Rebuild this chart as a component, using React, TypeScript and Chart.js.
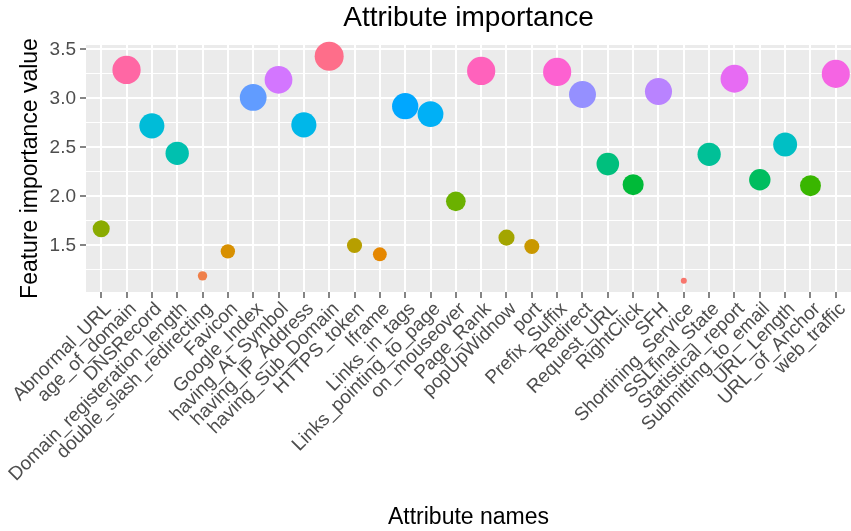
import { useEffect, useRef } from 'react';
import { Chart, registerables } from 'chart.js';

Chart.register(...registerables);

const categories = [
  'Abnormal_URL', 'age_of_domain', 'DNSRecord', 'Domain_registeration_length',
  'double_slash_redirecting', 'Favicon', 'Google_Index', 'having_At_Symbol',
  'having_IP_Address', 'having_Sub_Domain', 'HTTPS_token', 'Iframe',
  'Links_in_tags', 'Links_pointing_to_page', 'on_mouseover', 'Page_Rank',
  'popUpWidnow', 'port', 'Prefix_Suffix', 'Redirect', 'Request_URL',
  'RightClick', 'SFH', 'Shortining_Service', 'SSLfinal_State',
  'Statistical_report', 'Submitting_to_email', 'URL_Length', 'URL_of_Anchor',
  'web_traffic',
];

const importance = [
  1.67, 3.29, 2.72, 2.44,
  1.19, 1.44, 3.01, 3.19,
  2.73, 3.43, 1.50, 1.41,
  2.92, 2.84, 1.95, 3.28,
  1.58, 1.49, 3.27, 3.04, 2.33,
  2.12, 3.07, 1.14, 2.43,
  3.20, 2.17, 2.53, 2.11,
  3.25,
];

const yTickValues = [1.25, 1.5, 1.75, 2.0, 2.25, 2.5, 2.75, 3.0, 3.25, 3.5];

const TITLE = 'Attribute importance';
const FONT = '"Liberation Sans", Arial, sans-serif';

// ggplot2-like hue palette (polar LUV -> sRGB)
function hcl(h: number, c = 100, l = 65): string {
  const hr = (h * Math.PI) / 180;
  const U = c * Math.cos(hr);
  const V = c * Math.sin(hr);
  const WY = 100, Wu = 0.1978398, Wv = 0.4683363;
  const Y = WY * (l > 7.999592 ? Math.pow((l + 16) / 116, 3) : l / 903.3);
  const u = U / (13 * l) + Wu;
  const v = V / (13 * l) + Wv;
  const X = (9 * Y * u) / (4 * v);
  const Z = -X / 3 - 5 * Y + (3 * Y) / v;
  const g = (t: number) => {
    const x = t / WY;
    const r = x > 0.00304 ? 1.055 * Math.pow(x, 1 / 2.4) - 0.055 : 12.92 * x;
    return Math.round(Math.max(0, Math.min(1, r)) * 255);
  };
  const R = g(3.240479 * X - 1.53715 * Y - 0.498535 * Z);
  const G = g(-0.969256 * X + 1.875992 * Y + 0.041556 * Z);
  const B = g(0.055648 * X - 0.204043 * Y + 1.057311 * Z);
  return `rgb(${R},${G},${B})`;
}

const levels = Array.from(new Set(importance)).sort((a, b) => a - b);
const colors = importance.map((v) => hcl(15 + (360 * levels.indexOf(v)) / levels.length));
const vMin = Math.min(...importance);
const vMax = Math.max(...importance);
const radii = importance.map((v) => 3 + (14.5 - 3) * Math.sqrt((v - vMin) / (vMax - vMin)));
const yPad = (vMax - vMin) * 0.05;

const isMajor = (v: number) => Math.abs(v * 2 - Math.round(v * 2)) < 1e-6;

const panelBg = {
  id: 'panelBg',
  beforeDraw(chart: any) {
    const { ctx, chartArea } = chart;
    ctx.save();
    ctx.fillStyle = '#EBEBEB';
    ctx.fillRect(chartArea.left, chartArea.top, chartArea.right - chartArea.left, chartArea.bottom - chartArea.top);
    ctx.restore();
  },
  afterDraw(chart: any) {
    const { ctx, chartArea } = chart;
    ctx.save();
    ctx.fillStyle = '#000';
    ctx.font = `28px ${FONT}`;
    ctx.textAlign = 'center';
    ctx.textBaseline = 'middle';
    ctx.fillText(TITLE, (chartArea.left + chartArea.right) / 2, 18.5);
    ctx.restore();
  },
};

export default function App() {
  const ref = useRef<HTMLCanvasElement>(null);
  useEffect(() => {
    document.body.style.margin = '0';
    const chart = new Chart(ref.current as HTMLCanvasElement, {
      type: 'scatter',
      data: {
        datasets: [
          {
            data: categories.map((_, i) => ({ x: i, y: importance[i] })),
            pointRadius: radii,
            pointHoverRadius: radii,
            pointBackgroundColor: colors,
            pointBorderWidth: 0,
            clip: false as any,
          },
        ],
      },
      options: {
        responsive: false,
        animation: false,
        events: [],
        layout: { padding: { top: 45, left: 0, right: 0, bottom: 0 }, autoPadding: false } as any,
        plugins: {
          legend: { display: false },
          tooltip: { enabled: false },
          title: { display: false },
        },
        scales: {
          x: {
            type: 'linear',
            min: -0.6,
            max: categories.length - 1 + 0.6,
            afterBuildTicks: (s: any) => {
              s.ticks = categories.map((_, i) => ({ value: i }));
            },
            afterFit: (s: any) => {
              s.height = 239;
              s.paddingLeft = 0;
              s.paddingRight = 0;
            },
            ticks: {
              autoSkip: false,
              minRotation: 45,
              maxRotation: 45,
              padding: 0,
              labelOffset: 7,
              color: '#4D4D4D',
              font: { family: FONT, size: 19 },
              callback: (v: any) => categories[Math.round(Number(v))] ?? '',
            },
            grid: {
              color: '#FFFFFF',
              lineWidth: 2,
              tickColor: '#333333',
              tickLength: 6,
              tickWidth: 1.2,
            },
            border: { display: false },
            title: {
              display: true,
              text: 'Attribute names',
              color: '#000',
              font: { family: FONT, size: 23 },
              padding: { top: 0, bottom: 0 },
            },
          },
          y: {
            type: 'linear',
            min: vMin - yPad,
            max: vMax + yPad,
            afterBuildTicks: (s: any) => {
              s.ticks = yTickValues.map((v) => ({ value: v }));
            },
            afterFit: (s: any) => {
              s.width = 86;
              s.paddingTop = 0;
              s.paddingBottom = 0;
            },
            ticks: {
              padding: 4,
              color: '#4D4D4D',
              font: { family: FONT, size: 19 },
              callback: (v: any) => (isMajor(Number(v)) ? Number(v).toFixed(1) : ''),
            },
            grid: {
              color: '#FFFFFF',
              lineWidth: (ctx: any) => (ctx.tick && isMajor(ctx.tick.value) ? 2 : 1),
              tickColor: (ctx: any) => (ctx.tick && isMajor(ctx.tick.value) ? '#333333' : 'rgba(0,0,0,0)'),
              tickLength: 6,
              tickWidth: 1.2,
            },
            border: { display: false },
            title: {
              display: true,
              text: 'Feature importance value',
              color: '#000',
              font: { family: FONT, size: 23 },
              padding: { top: 17, bottom: 0 },
            },
          },
        },
      },
      plugins: [panelBg],
    });
    return () => chart.destroy();
  }, []);
  return (
    <div style={{ position: 'absolute', left: 0, top: 0, width: 851, height: 531 }}>
      <canvas ref={ref} width={851} height={531} style={{ width: 851, height: 531, display: 'block' }} />
    </div>
  );
}
